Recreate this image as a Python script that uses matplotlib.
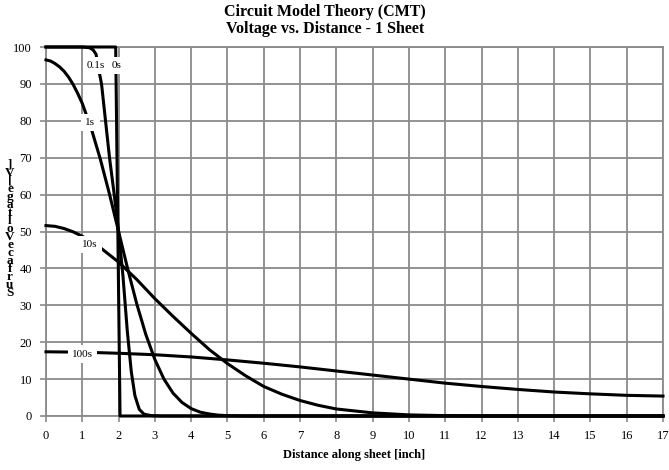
import matplotlib
matplotlib.use('Agg')
import matplotlib.pyplot as plt

plt.rcParams['font.family'] = ['Liberation Serif', 'DejaVu Serif']

# curves (x in inch, y in V)
x_0s = [0, 1.92, 2.04, 17]
v_0s = [100, 100, 0, 0]

x_01s = [0, 1.0, 1.2, 1.3, 1.38, 1.46, 1.53, 1.64, 1.75, 1.88, 2.0, 2.12, 2.24, 2.35, 2.45, 2.57, 2.7, 2.9, 3.2, 17]
v_01s = [100, 100, 99.8, 99.2, 98, 93.5, 90, 80, 70, 60, 50, 38, 23, 12, 5.5, 1.8, 0.5, 0.1, 0, 0]

x_1s = [0, 0.125, 0.25, 0.375, 0.5, 0.625, 0.75, 0.875, 1.0, 1.25, 1.5, 1.75, 2.0, 2.25, 2.5, 2.75,
        3.0, 3.25, 3.5, 3.75, 4.0, 4.25, 4.5, 4.75, 5.0, 5.5, 17]
v_1s = [96.5, 96.2, 95.5, 94.6, 93.4, 91.8, 89.8, 87.4, 84.7, 77.8, 69.5, 60.1, 50, 39.9, 30.4, 22.1,
        15.3, 10.0, 6.2, 3.65, 2.0, 1.04, 0.55, 0.23, 0.1, 0, 0]

x_10s = [0, 0.25, 0.5, 0.75, 1, 1.25, 1.5, 2, 2.5, 3, 3.5, 4, 4.5, 5, 5.5, 6, 6.5, 7, 7.5, 8, 9, 10, 11, 12, 17]
v_10s = [51.6, 51.4, 50.8, 49.9, 48.7, 47.3, 45.6, 41.7, 37.0, 31.8, 27.0, 22.4, 18.0, 14.2, 10.9, 8.0,
         5.9, 4.2, 2.9, 1.9, 0.85, 0.3, 0.1, 0, 0]

x_100s = [0, 1, 2, 3, 4, 5, 6, 7, 8, 9, 10, 11, 12, 13, 14, 15, 16, 17]
v_100s = [17.4, 17.3, 17.0, 16.6, 16.0, 15.2, 14.3, 13.3, 12.2, 11.1, 10.0, 8.9, 8.0, 7.2, 6.5, 6.0, 5.6, 5.4]

labels = ['0.1s', '0s', '1s', '10s', '100s']
label_x = [1.38, 1.95, 1.22, 1.2, 1.0]
label_y = [95, 95, 79.5, 46.5, 16.8]

fig = plt.figure(figsize=(6.69, 4.70), dpi=100)
ax = fig.add_axes([46/669, 1-416/470, 617/669, 369/470])

grey = '#8a8a8a'
for xs, vs in [(x_0s, v_0s), (x_01s, v_01s), (x_1s, v_1s), (x_10s, v_10s), (x_100s, v_100s)]:
    ax.plot(xs, vs, color='black', lw=2.2, clip_on=False, zorder=3,
            solid_joinstyle='round')

for t, lx, ly in zip(labels, label_x, label_y):
    ax.text(lx, ly, t, fontsize=8, ha='center', va='center', zorder=5,
            bbox=dict(facecolor='white', edgecolor='none', pad=3))

ax.set_xlim(0, 17)
ax.set_ylim(0, 100)
ax.set_xticks(range(0, 18))
ax.set_yticks(range(0, 101, 10))
ax.grid(True, color=grey, lw=1.3)
ax.set_axisbelow(True)
for s in ax.spines.values():
    s.set_color(grey)
    s.set_linewidth(1.3)
ax.tick_params(direction='out', length=4, width=1.2, color=grey,
               labelsize=9, pad=6)

fig.text(325/669, 1-12/470, 'Circuit Model Theory (CMT)', ha='center', va='center',
         fontsize=11.5, fontweight='bold')
fig.text(325/669, 1-29/470, 'Voltage vs. Distance - 1 Sheet', ha='center', va='center',
         fontsize=11.5, fontweight='bold')
fig.text(354/669, 1-455/470, 'Distance along sheet [inch]', ha='center', va='center',
         fontsize=9, fontweight='bold')

ylab = 'Surface Voltage [V]'.replace(' ', '')
fig.text(10/669, 1-229/470, '\n'.join(reversed(ylab)), ha='center', va='center',
         fontsize=9.5, fontweight='bold', linespacing=0.56, multialignment='center')

fig.savefig('out.png', dpi=100)
